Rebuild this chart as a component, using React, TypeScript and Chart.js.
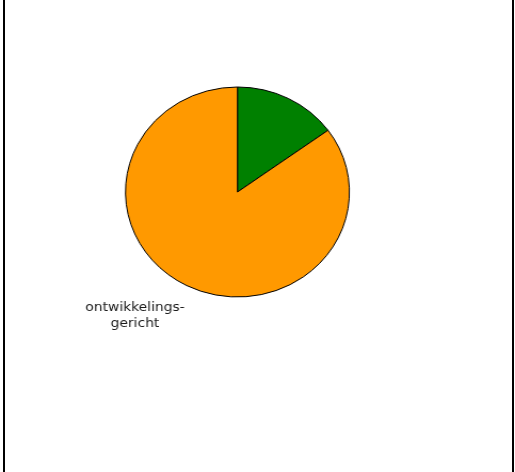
import React, { useEffect, useRef } from "react";
import { Chart, registerables } from "chart.js";

Chart.register(...registerables);

const categories = ["", "ontwikkelings-gericht"];
const labelLines = [[], ["ontwikkelings-", "gericht"]];
const values = [15, 85];
const colors = ["#008000", "#FF9900"];

const labelPlugin = {
  id: "sliceLabels",
  afterDraw(chart: any) {
    const meta = chart.getDatasetMeta(0);
    const ctx = chart.ctx;
    meta.data.forEach((arc: any, i: number) => {
      const lines = labelLines[i];
      if (!lines || !lines.length) return;
      const r = arc.outerRadius;
      const x = arc.x - 0.915 * r;
      const y = arc.y + 1.13 * r;
      ctx.save();
      ctx.font = '13px "DejaVu Sans"';
      ctx.fillStyle = "#1a1a1a";
      ctx.textAlign = "center";
      ctx.textBaseline = "alphabetic";
      lines.forEach((ln: string, k: number) => ctx.fillText(ln, x, y + k * 16.5));
      ctx.restore();
    });
  },
};

export default function App() {
  const ref = useRef<HTMLCanvasElement>(null);
  useEffect(() => {
    if (!ref.current) return;
    const chart = new Chart(ref.current, {
      type: "pie",
      data: {
        labels: categories,
        datasets: [
          {
            data: values,
            backgroundColor: colors,
            borderColor: "#000000",
            borderWidth: 1,
          },
        ],
      },
      options: {
        animation: false,
        responsive: true,
        maintainAspectRatio: false,
        layout: { padding: { left: 117.2, right: 154.8, top: 86.5, bottom: 174.5 } },
        plugins: { legend: { display: false }, tooltip: { enabled: false }, title: { display: false } },
      },
      plugins: [labelPlugin],
    });
    return () => chart.destroy();
  }, []);

  return (
    <div style={{ position: "absolute", left: 0, top: 0, width: 515, height: 472, background: "#fff", overflow: "hidden" }}>
      <div style={{ position: "absolute", left: 3, top: 0, width: 2, height: 472, background: "#000" }} />
      <div style={{ position: "absolute", left: 512, top: 0, width: 2, height: 472, background: "#000" }} />
      <div style={{ position: "absolute", left: 0, top: 0, width: 483, height: 472, transform: `scaleX(${515 / 483})`, transformOrigin: "0 0" }}>
        <canvas ref={ref} />
      </div>
    </div>
  );
}
